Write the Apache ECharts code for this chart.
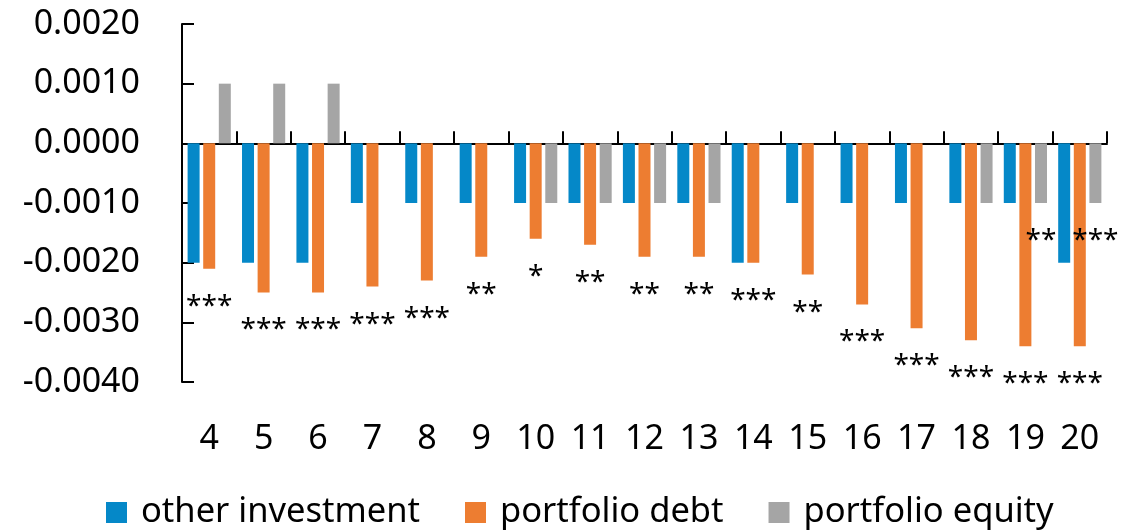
<!DOCTYPE html>
<html>
<head>
<meta charset="utf-8">
<script src="https://cdn.jsdelivr.net/npm/echarts@6/dist/echarts.min.js"></script>
<style>
  html, body { margin: 0; padding: 0; background: #fff; }
  #chart { width: 1137px; height: 530px; }
</style>
</head>
<body>
<div id="chart"></div>
<script>
// Horizon categories
const categories = ['4', '5', '6', '7', '8', '9', '10', '11', '12', '13', '14', '15', '16', '17', '18', '19', '20'];

// Coefficients by capital flow type
const otherInvestment = [-0.0020, -0.0020, -0.0020, -0.0010, -0.0010, -0.0010, -0.0010, -0.0010, -0.0010, -0.0010, -0.0020, -0.0010, -0.0010, -0.0010, -0.0010, -0.0010, -0.0020];
const portfolioDebt   = [-0.0021, -0.0025, -0.0025, -0.0024, -0.0023, -0.0019, -0.0016, -0.0017, -0.0019, -0.0019, -0.0020, -0.0022, -0.0027, -0.0031, -0.0033, -0.0034, -0.0034];
const portfolioEquity = [0.0010, 0.0010, 0.0010, 0, 0, 0, -0.0010, -0.0010, -0.0010, -0.0010, 0, 0, 0, 0, -0.0010, -0.0010, -0.0010];

// Significance markers
const debtStars   = ['***', '***', '***', '***', '***', '**', '*', '**', '**', '**', '***', '**', '***', '***', '***', '***', '***'];
const equityStars = ['', '', '', '', '', '', '', '', '', '', '', '', '', '', '', '**', '***'];

// Value axis ticks
const yMin = -0.004, yMax = 0.002, yStep = 0.001;

const FONT = 'Noto Sans';
const chart = echarts.init(document.getElementById('chart'), null, { renderer: 'canvas' });

function starLabel(stars) {
  return {
    show: true,
    position: 'bottom',
    distance: 24,
    color: '#000',
    fontFamily: FONT,
    fontSize: 28,
    formatter: p => stars[p.dataIndex]
  };
}

const barBase = { type: 'bar', barWidth: 12, barGap: '30%', xAxisIndex: 0 };

chart.setOption({
  animation: false,
  textStyle: { fontFamily: FONT },
  color: ['#0588c8', '#ed7d31', '#a5a5a5'],
  grid: { left: 182, right: 30, top: 24, bottom: 148, containLabel: false },
  legend: {
    top: 490,
    left: 101,
    itemWidth: 21,
    itemHeight: 21,
    itemGap: 45,
    icon: 'rect',
    textStyle: { fontFamily: FONT, fontSize: 34.5, color: '#000', padding: [0, 0, 0, 9] },
    data: ['other investment', 'portfolio debt', 'portfolio equity']
  },
  xAxis: [
    {
      type: 'category',
      data: categories,
      axisLine: { onZero: true, lineStyle: { color: '#000', width: 2 } },
      axisTick: { show: true, inside: true, length: 12, lineStyle: { color: '#000', width: 2 } },
      axisLabel: { show: false },
      splitLine: { show: false }
    },
    {
      type: 'category',
      data: categories,
      position: 'bottom',
      axisLine: { show: false },
      axisTick: { show: false },
      axisLabel: { show: true, margin: 40, color: '#000', fontFamily: FONT, fontSize: 34 },
      splitLine: { show: false }
    }
  ],
  yAxis: {
    type: 'value',
    min: yMin,
    max: yMax,
    interval: yStep,
    axisLine: { show: true, lineStyle: { color: '#000', width: 2 } },
    axisTick: { show: true, inside: true, length: 12, lineStyle: { color: '#000', width: 2 } },
    axisLabel: {
      margin: 42,
      color: '#000',
      fontFamily: FONT,
      fontSize: 34,
      formatter: v => v.toFixed(4)
    },
    splitLine: { show: false }
  },
  series: [
    Object.assign({}, barBase, { name: 'other investment', data: otherInvestment }),
    Object.assign({}, barBase, { name: 'portfolio debt', data: portfolioDebt, label: starLabel(debtStars) }),
    Object.assign({}, barBase, { name: 'portfolio equity', data: portfolioEquity, label: starLabel(equityStars) })
  ]
});
</script>
</body>
</html>
